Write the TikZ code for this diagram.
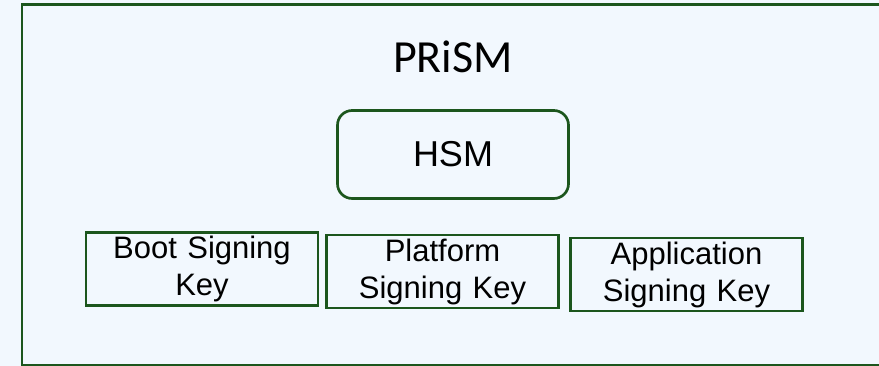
\documentclass[tikz,border=0pt]{standalone}
\usepackage{fontspec}
\setmainfont{Liberation Sans}
\newfontfamily\titlefont{Carlito}
\definecolor{bgblue}{HTML}{F2F8FE}
\definecolor{frameGreen}{HTML}{1C561D}
\begin{document}
\begin{tikzpicture}[x=0.75pt,y=-0.75pt,
  keybox/.style={draw=frameGreen,line width=2pt,minimum width=232*0.75pt,minimum height=73*0.75pt,
    inner sep=0pt,align=center,font=\fontsize{23.25}{27.75}\selectfont,text width=228*0.75pt},
  hsmbox/.style={draw=frameGreen,line width=2pt,rounded corners=11pt,minimum width=231*0.75pt,
    minimum height=88*0.75pt,inner sep=0pt,font=\fontsize{27}{32}\selectfont}]
  % page and background
  \useasboundingbox (0,0) rectangle (879,366);
  \clip (0,0) rectangle (879,366);
  \fill[bgblue] (0,0) rectangle (879,366);
  % outer PRiSM frame (runs past the right edge)
  \draw[frameGreen,line width=2pt] (22,4.5) rectangle (900,365);
  \node[font=\titlefont\fontsize{34.5}{40}\selectfont] (title) at (453,57) {PRiSM};
  \node[hsmbox] (hsm) at (453,154.5) {HSM};
  \node[keybox] (boot) at (202,269) {Boot Signing\\Key};
  \node[keybox] (platform) at (442.5,271.5) {Platform\\Signing Key};
  \node[keybox] (app) at (686.5,274.5) {Application\\Signing Key};
\end{tikzpicture}
\end{document}
